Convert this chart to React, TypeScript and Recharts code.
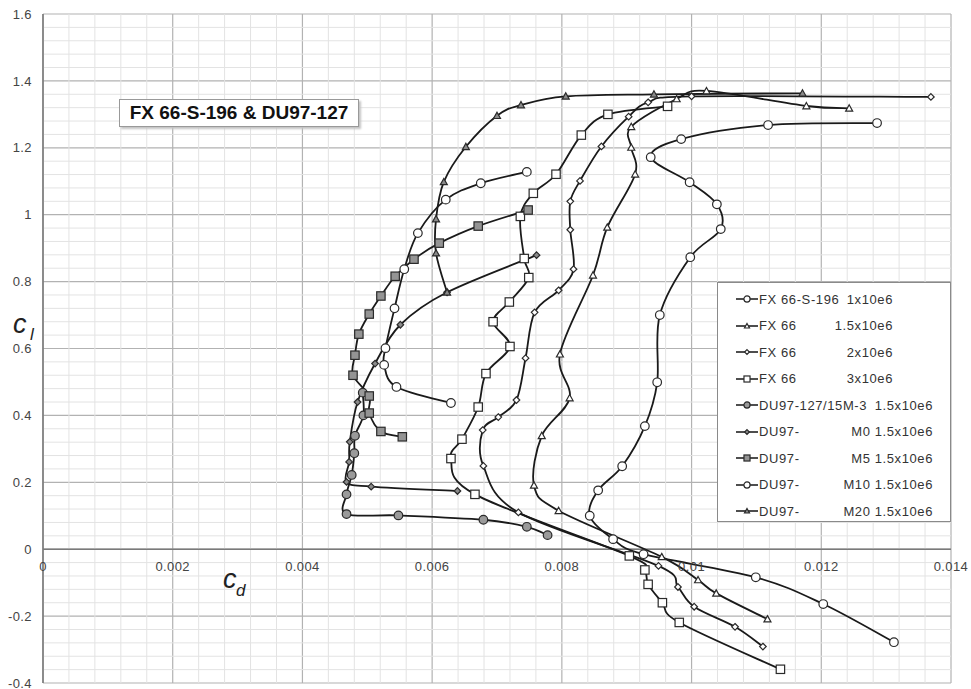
import React from 'react';
import { LineChart, Line, XAxis, YAxis, CartesianGrid, ReferenceLine, Legend } from 'recharts';

const W = 971;
const H = 689;
const FONT = "'Liberation Sans', Arial, sans-serif";
const PLOT_TOP = 14;
const PLOT_BOTTOM = 6;

const xTicks = [0, 0.002, 0.004, 0.006, 0.008, 0.01, 0.012, 0.014];
const yTicks = [-0.4, -0.2, 0, 0.2, 0.4, 0.6, 0.8, 1, 1.2, 1.4, 1.6];

const seriesNames = ['FX 66-S-196', 'FX 66', 'FX 66', 'FX 66', 'DU97-127/15M-3', 'DU97-', 'DU97-', 'DU97-', 'DU97-'];
const seriesRe = ['1x10e6', '1.5x10e6', '2x10e6', '3x10e6', '1.5x10e6', 'M0 1.5x10e6', 'M5 1.5x10e6', 'M10 1.5x10e6', 'M20 1.5x10e6'];

// [cd, cl] pairs
const fx66Re1: [number, number][] = [
  [0.01312, -0.278], [0.01203, -0.164], [0.01099, -0.084], [0.00926, -0.015], [0.00879, 0.03],
  [0.00843, 0.1], [0.00856, 0.176], [0.00893, 0.248], [0.00928, 0.368], [0.00947, 0.499],
  [0.00951, 0.7], [0.00998, 0.873], [0.01045, 0.957], [0.01039, 1.031], [0.00997, 1.097],
  [0.00937, 1.172], [0.00984, 1.226], [0.01118, 1.268], [0.01286, 1.274],
];
const fx66Re15: [number, number][] = [
  [0.01117, -0.209], [0.01038, -0.132], [0.0101, -0.092], [0.00954, -0.023], [0.00795, 0.115],
  [0.00757, 0.191], [0.00769, 0.339], [0.00812, 0.452], [0.00797, 0.583], [0.00848, 0.819],
  [0.0087, 0.962], [0.00913, 1.121], [0.00907, 1.201], [0.00907, 1.263], [0.00977, 1.346],
  [0.01023, 1.37], [0.01177, 1.325], [0.01243, 1.318],
];
const fx66Re2: [number, number][] = [
  [0.0111, -0.291], [0.01067, -0.232], [0.01004, -0.172], [0.00979, -0.113], [0.00949, -0.05],
  [0.00733, 0.11], [0.00679, 0.249], [0.00678, 0.356], [0.00702, 0.395], [0.0073, 0.446],
  [0.00744, 0.571], [0.00758, 0.708], [0.00795, 0.774], [0.00818, 0.837], [0.00813, 0.955],
  [0.00813, 1.04], [0.00828, 1.101], [0.00861, 1.204], [0.00903, 1.293], [0.00933, 1.336],
  [0.01, 1.354], [0.01369, 1.352],
];
const fx66Re3: [number, number][] = [
  [0.01137, -0.359], [0.00981, -0.219], [0.00955, -0.16], [0.00933, -0.105], [0.00928, -0.062],
  [0.00904, -0.02], [0.00666, 0.164], [0.00629, 0.271], [0.00646, 0.329], [0.00671, 0.425],
  [0.00683, 0.525], [0.0072, 0.606], [0.00694, 0.68], [0.00719, 0.739], [0.00749, 0.812],
  [0.00742, 0.869], [0.00736, 0.995], [0.00756, 1.064], [0.00791, 1.121], [0.0083, 1.238],
  [0.00871, 1.3], [0.00963, 1.324],
];
const du15M3: [number, number][] = [
  [0.00778, 0.042], [0.00746, 0.067], [0.00679, 0.088], [0.00548, 0.101], [0.00468, 0.105],
  [0.00468, 0.164], [0.00476, 0.222], [0.0048, 0.287], [0.00481, 0.339], [0.00494, 0.4],
  [0.00493, 0.468],
];
const duM0: [number, number][] = [
  [0.00639, 0.174], [0.00506, 0.187], [0.00468, 0.201], [0.00472, 0.261], [0.00473, 0.321],
  [0.00485, 0.44], [0.00512, 0.555], [0.00551, 0.671], [0.00623, 0.768], [0.00761, 0.879],
];
const duM5: [number, number][] = [
  [0.00554, 0.336], [0.00521, 0.352], [0.00503, 0.407], [0.00503, 0.458], [0.00478, 0.52],
  [0.00481, 0.58], [0.00487, 0.643], [0.00503, 0.703], [0.00521, 0.757], [0.00543, 0.816],
  [0.00572, 0.867], [0.00611, 0.915], [0.00671, 0.966], [0.00748, 1.014],
];
const duM10: [number, number][] = [
  [0.00629, 0.437], [0.00545, 0.485], [0.00526, 0.551], [0.00528, 0.601], [0.00542, 0.72],
  [0.00557, 0.837], [0.00578, 0.945], [0.00621, 1.045], [0.00675, 1.094], [0.00746, 1.128],
];
const duM20: [number, number][] = [
  [0.00623, 0.768], [0.00606, 0.885], [0.00606, 0.987], [0.00618, 1.098], [0.00652, 1.203],
  [0.007, 1.296], [0.00737, 1.328], [0.00806, 1.354], [0.00942, 1.36], [0.01171, 1.363],
];

type Kind = 'circle' | 'triangle' | 'diamond' | 'square';

const series = [
  { id: 'fx1', pts: fx66Re1, kind: 'circle' as Kind, fill: '#fff' },
  { id: 'fx15', pts: fx66Re15, kind: 'triangle' as Kind, fill: '#fff' },
  { id: 'fx2', pts: fx66Re2, kind: 'diamond' as Kind, fill: '#fff' },
  { id: 'fx3', pts: fx66Re3, kind: 'square' as Kind, fill: '#fff' },
  { id: 'du15', pts: du15M3, kind: 'circle' as Kind, fill: '#9a9a9a' },
  { id: 'm0', pts: duM0, kind: 'diamond' as Kind, fill: '#8a8a8a' },
  { id: 'm5', pts: duM5, kind: 'square' as Kind, fill: '#949494' },
  { id: 'm10', pts: duM10, kind: 'circle' as Kind, fill: '#fff' },
  { id: 'm20', pts: duM20, kind: 'triangle' as Kind, fill: '#8a8a8a' },
].map((s, i) => ({ ...s, name: seriesNames[i], re: seriesRe[i], data: s.pts.map(([cd, cl]) => ({ cd, cl })) }));

// minor grid every fifth of a major step (Excel default)
const minorX: number[] = [];
for (let i = 1; i < 35; i++) if (i % 5 !== 0) minorX.push(i * 0.0004);
const minorY: number[] = [];
for (let i = 1; i < 50; i++) if (i % 5 !== 0) minorY.push(-0.4 + i * 0.04);

// Excel-like smoothed line (Catmull-Rom through the points)
const smooth = (context: any) => {
  let pts: number[][] = [];
  return {
    areaStart() {},
    areaEnd() {},
    lineStart() { pts = []; },
    point(x: number, y: number) { pts.push([+x, +y]); },
    lineEnd() {
      const n = pts.length;
      if (!n) return;
      context.moveTo(pts[0][0], pts[0][1]);
      for (let i = 0; i < n - 1; i++) {
        const p0 = pts[i > 0 ? i - 1 : i];
        const p1 = pts[i];
        const p2 = pts[i + 1];
        const p3 = pts[i + 2 < n ? i + 2 : i + 1];
        context.bezierCurveTo(
          p1[0] + (p2[0] - p0[0]) / 6, p1[1] + (p2[1] - p0[1]) / 6,
          p2[0] - (p3[0] - p1[0]) / 6, p2[1] - (p3[1] - p1[1]) / 6,
          p2[0], p2[1]
        );
      }
    },
  };
};

function Marker({ kind, fill, cx, cy, s = 1 }: { kind: Kind; fill: string; cx: number; cy: number; s?: number }) {
  const common = { fill, stroke: '#2a2a2a', strokeWidth: 1.2 };
  if (kind === 'circle') return <circle cx={cx} cy={cy} r={4.3 * s} {...common} />;
  if (kind === 'square') {
    const h = 4.2 * s;
    return <rect x={cx - h} y={cy - h} width={2 * h} height={2 * h} {...common} />;
  }
  if (kind === 'diamond') {
    const h = 3.3 * s;
    return <polygon points={`${cx},${cy - h} ${cx + h},${cy} ${cx},${cy + h} ${cx - h},${cy}`} {...common} />;
  }
  const h = 3.5 * s;
  return <polygon points={`${cx},${cy - h} ${cx + h},${cy + h * 0.8} ${cx - h},${cy + h * 0.8}`} {...common} />;
}

const plotH = H - PLOT_TOP - PLOT_BOTTOM;
const zeroY = H - PLOT_BOTTOM - (plotH * (0 - yTicks[0])) / (yTicks[yTicks.length - 1] - yTicks[0]);

const XTick = (props: any) => (
  <text x={props.x} y={zeroY + 22} textAnchor="middle" fontSize={13} fontFamily={FONT} fill="#444" letterSpacing={0.4}>
    {props.payload.value}
  </text>
);

const LegendBox = () => (
  <div
    style={{
      width: 232,
      height: 235,
      border: '1px solid #8a8a8a',
      background: '#fff',
      fontFamily: FONT,
      fontSize: 13,
      color: '#333',
      letterSpacing: 0.6,
      boxSizing: 'content-box',
      paddingTop: 3,
    }}
  >
    {series.map((s, i) => (
      <div key={s.id} style={{ display: 'flex', alignItems: 'center', height: 26.5, marginLeft: 17 }}>
        <svg width={24} height={12} style={{ flex: 'none' }}>
          <line x1={1} y1={6} x2={23} y2={6} stroke="#222" strokeWidth={1.6} />
          <Marker kind={s.kind} fill={s.fill} cx={12} cy={6} s={0.72} />
        </svg>
        <div style={{ display: 'flex', justifyContent: 'space-between', width: i < 4 ? 134 : 174, whiteSpace: 'pre' }}>
          <span>{s.name}</span>
          <span>{s.re}</span>
        </div>
      </div>
    ))}
  </div>
);

export default function App() {
  return (
    <div style={{ position: 'absolute', left: 0, top: 0, width: W, height: H, background: '#fff' }}>
      <LineChart width={W} height={H} margin={{ top: PLOT_TOP, right: 20, bottom: 0, left: 0 }}>
        {minorX.map((v) => (
          <ReferenceLine key={`mx${v}`} x={v} stroke="#e3e3e3" strokeWidth={1} />
        ))}
        {minorY.map((v) => (
          <ReferenceLine key={`my${v}`} y={v} stroke="#e3e3e3" strokeWidth={1} />
        ))}
        <CartesianGrid stroke="#b2b2b2" strokeWidth={1.2} />
        <XAxis
          type="number"
          dataKey="cd"
          domain={[0, 0.014]}
          ticks={xTicks}
          interval={0}
          allowDataOverflow
          height={PLOT_BOTTOM}
          axisLine={false}
          tickLine={false}
          tick={<XTick />}
        />
        <YAxis
          type="number"
          dataKey="cl"
          domain={[-0.4, 1.6]}
          ticks={yTicks}
          interval={0}
          allowDataOverflow
          width={43}
          tickLine={false}
          tickMargin={5}
          axisLine={{ stroke: '#7a7a7a', strokeWidth: 1.6 }}
          tick={{ fontSize: 13, fontFamily: FONT, fill: '#444', letterSpacing: 0.4 }}
        />
        <ReferenceLine y={0} stroke="#7a7a7a" strokeWidth={1.6} />
        {series.map((s) => (
          <Line
            key={s.id}
            data={s.data}
            dataKey="cl"
            name={s.name}
            type={smooth as any}
            stroke="#1a1a1a"
            strokeWidth={1.8}
            isAnimationActive={false}
            dot={(p: any) => <Marker key={`${s.id}-${p.index}`} kind={s.kind} fill={s.fill} cx={p.cx} cy={p.cy} />}
            activeDot={false}
          />
        ))}
        <Legend
          layout="vertical"
          align="center"
          verticalAlign="middle"
          content={<LegendBox />}
          wrapperStyle={{ position: 'absolute', left: 717, top: 282, width: 234, height: 239 }}
        />
      </LineChart>
      <div
        style={{
          position: 'absolute',
          left: 119,
          top: 99,
          width: 238,
          height: 26,
          border: '1px solid #999',
          boxShadow: '2px 2px 2px #c4c4c4',
          background: '#fff',
          fontFamily: FONT,
          fontWeight: 'bold',
          fontSize: 19,
          lineHeight: '26px',
          textAlign: 'center',
          color: '#111',
        }}
      >
        FX 66-S-196 &amp; DU97-127
      </div>
      <svg width={W} height={H} style={{ position: 'absolute', left: 0, top: 0, pointerEvents: 'none' }}>
        <text x={13} y={333} fontFamily={FONT} fontStyle="italic" fontSize={27} fill="#222">c</text>
        <text x={30} y={340} fontFamily={FONT} fontStyle="italic" fontSize={17} fill="#222">l</text>
        <text x={223} y={588} fontFamily={FONT} fontStyle="italic" fontSize={27} fill="#222">c</text>
        <text x={236} y={596} fontFamily={FONT} fontStyle="italic" fontSize={17} fill="#222">d</text>
      </svg>
    </div>
  );
}
